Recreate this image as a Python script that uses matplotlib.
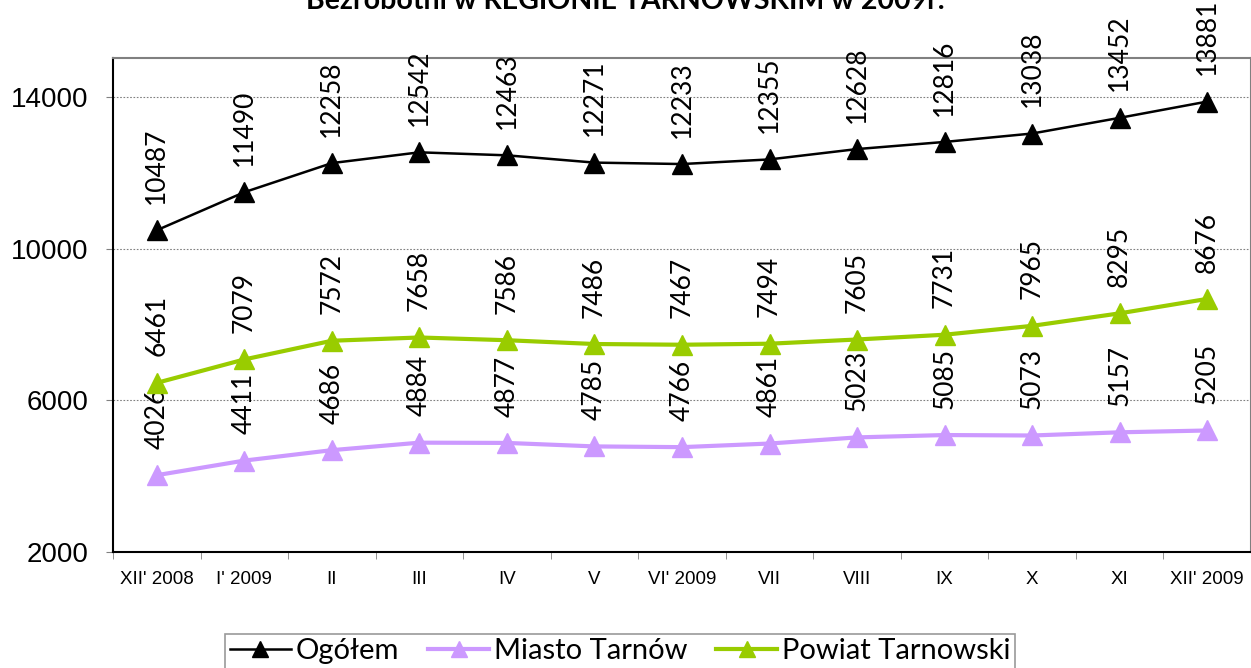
import matplotlib.pyplot as plt

months = ["XII' 2008", "I' 2009", "II", "III", "IV", "V", "VI' 2009",
          "VII", "VIII", "IX", "X", "XI", "XII' 2009"]
ogolem = [10487, 11490, 12258, 12542, 12463, 12271, 12233, 12355, 12628, 12816, 13038, 13452, 13881]
miasto = [4026, 4411, 4686, 4884, 4877, 4785, 4766, 4861, 5023, 5085, 5073, 5157, 5205]
powiat = [6461, 7079, 7572, 7658, 7586, 7486, 7467, 7494, 7605, 7731, 7965, 8295, 8676]
yticks = [2000, 6000, 10000, 14000]

W, H = 1251, 668
fig = plt.figure(figsize=(W / 100, H / 100), dpi=100)
ax = fig.add_axes([113 / W, 1 - 552 / H, (W - 113) / W, (552 - 58) / H])

x = list(range(len(months)))
series = [
    (ogolem, "Ogółem", "black", 1.8),
    (miasto, "Miasto Tarnów", "#CC99FF", 3.0),
    (powiat, "Powiat Tarnowski", "#99CC00", 3.0),
]
for vals, name, col, lw in series:
    ax.plot(x, vals, color=col, lw=lw, marker="^", ms=14, label=name, zorder=3)
    for xi, v in zip(x, vals):
        ax.annotate(str(v), (xi, v), xytext=(0, 19), textcoords="offset points",
                    rotation=90, ha="center", va="bottom", fontsize=19,
                    family="Lato", color="black", annotation_clip=False)

ax.set_xlim(-0.5, 12.5)
ax.set_ylim(2000, 15030)
ax.set_yticks(yticks)
ax.set_yticklabels([str(t) for t in yticks], fontsize=20, family="Liberation Sans")
ax.set_xticks(x)
ax.set_xticklabels(months, fontsize=13.5, family="Liberation Sans")
ax.set_xticks([i - 0.5 for i in range(len(months) + 1)], minor=True)
ax.tick_params(axis="x", which="major", length=0, pad=14)
ax.tick_params(axis="x", which="minor", length=5, color="gray")
ax.tick_params(axis="y", length=5, color="gray", pad=13)

for t in yticks[1:]:
    ax.axhline(t, color="gray", lw=0.8, ls=(0, (1.5, 1.5)), zorder=1)

ax.spines["left"].set_color("black")
ax.spines["left"].set_linewidth(1.5)
ax.spines["bottom"].set_color("black")
ax.spines["bottom"].set_linewidth(1.5)
ax.spines["top"].set_color("gray")
ax.spines["top"].set_linewidth(1.5)
ax.spines["right"].set_color("gray")
ax.spines["right"].set_linewidth(1.5)

fig.text(0.5, 1 - 9 / H, "Bezrobotni w REGIONIE TARNOWSKIM w 2009r.",
         ha="center", va="baseline", fontsize=20.5, fontweight="bold", family="Lato")

leg = fig.legend(loc="upper center", bbox_to_anchor=(620 / W, 1 - 634 / H),
                 ncol=3, frameon=True, fancybox=False, prop={"family": "Lato", "size": 21},
                 handlelength=2.1, columnspacing=1.0, handletextpad=0.15,
                 borderpad=0.15, borderaxespad=0, markerscale=0.85)
leg.get_frame().set_edgecolor("gray")
leg.get_frame().set_linewidth(1.2)

fig.savefig("out.png", dpi=100)
